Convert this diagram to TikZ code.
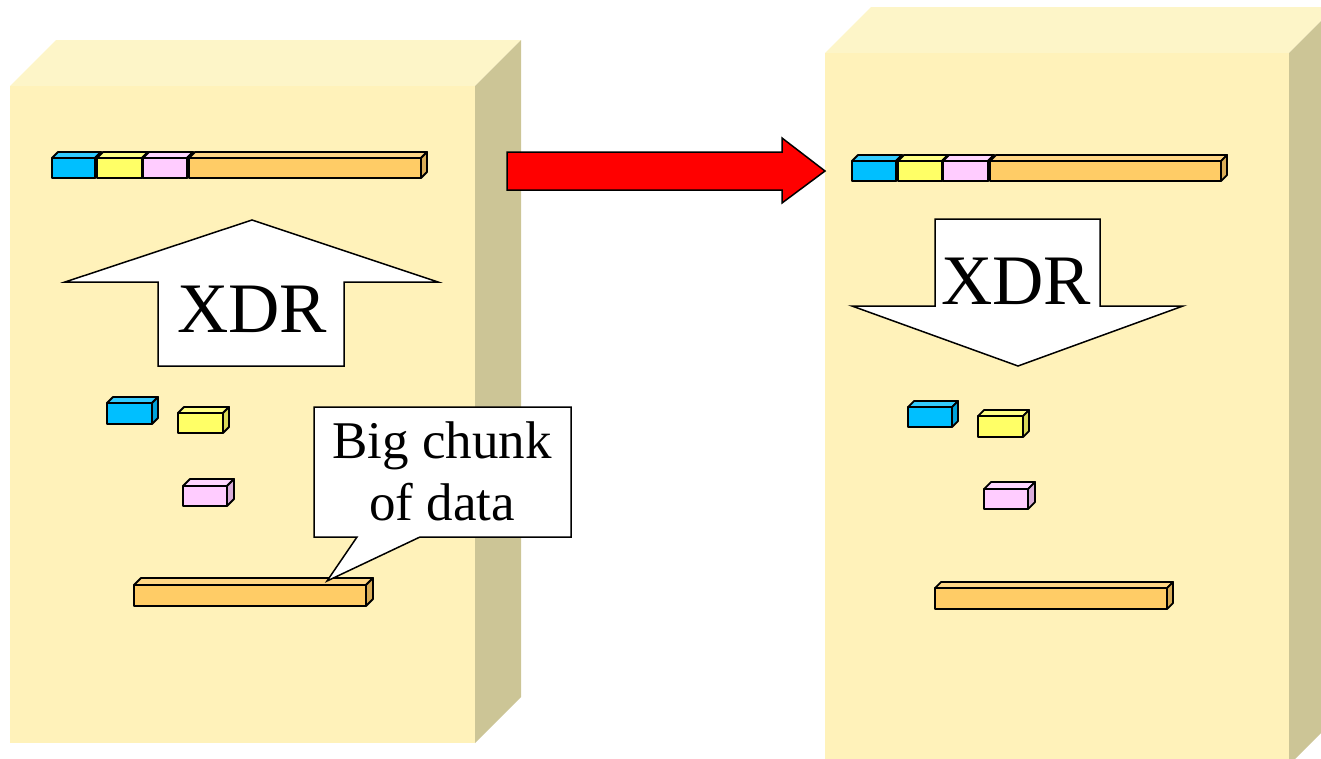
\documentclass[tikz,border=0pt]{standalone}
\usepackage{fontspec}
\setmainfont{Liberation Serif}

% cabinet faces
\definecolor{caseFront}{HTML}{FFF2BA}
\definecolor{caseTop}{HTML}{FDF5C8}
\definecolor{caseSide}{HTML}{CCC596}
% data block colours
\definecolor{blk1}{HTML}{00BFFF}
\definecolor{blk2}{HTML}{FFFF66}
\definecolor{blk3}{HTML}{FFCCFF}
\definecolor{blk4}{HTML}{FFCC66}

\tikzset{
  outline/.style={draw=black, line width=1.5pt, line join=miter},
  slabline/.style={draw=black, line width=1.8pt, line join=round},
  xdrtext/.style={font=\fontsize{71}{80}\selectfont, inner sep=0pt, anchor=base},
  calltext/.style={font=\fontsize{53}{62}\selectfont, align=center, inner sep=0pt},
}

% a cabinet: front face corners (x1,y1)-(x2,y2) and depth
\newcommand\casebox[5]{%
  \fill[caseTop] (#1,#2) -- (#1+#5,#2-#5) -- (#3+#5,#2-#5) -- (#3,#2) -- cycle;
  \fill[caseSide] (#3,#2) -- (#3+#5,#2-#5) -- (#3+#5,#4-#5) -- (#3,#4) -- cycle;
  \fill[caseFront] (#1,#2) rectangle (#3,#4);
}

% a small 3-D data block: front face (x1,y1)-(x2,y2), depth, colour
\newcommand\slab[6]{%
  \filldraw[slabline, fill=#6!80!white] (#1,#2) -- (#1+#5,#2-#5) -- (#3+#5,#2-#5) -- (#3,#2) -- cycle;
  \filldraw[slabline, fill=#6!85!black] (#3,#2) -- (#3+#5,#2-#5) -- (#3+#5,#4-#5) -- (#3,#4) -- cycle;
  \filldraw[slabline, fill=#6] (#1,#2) rectangle (#3,#4);
}

\begin{document}
\begin{tikzpicture}[x=1pt, y=-1pt]
\useasboundingbox (0,0) rectangle (1321,758);
\clip (0,0) rectangle (1321,758);

% the two machines
\casebox{10}{86}{475}{743}{46}
\casebox{825}{53}{1289}{765}{46}

% ---- sender ----
\slab{52}{158}{95}{178}{6}{blk1}
\slab{97}{158}{142}{178}{6}{blk2}
\slab{143}{158}{187}{178}{6}{blk3}
\slab{189}{158}{421}{178}{6}{blk4}

\filldraw[outline, fill=white] (158,366) -- (158,282) -- (65,282) -- (252,220)
  -- (438,282) -- (344,282) -- (344,366) -- cycle;
\node[xdrtext] (encode) at (252,332) {XDR};

\slab{107}{403}{152}{424}{6}{blk1}
\slab{178}{413}{223}{433}{6}{blk2}
\slab{183}{486}{227}{506}{7}{blk3}
\slab{134}{585}{366}{606}{7}{blk4}

\filldraw[outline, fill=white] (314,407) -- (571,407) -- (571,537) -- (420,537)
  -- (327,581) -- (357,537) -- (314,537) -- cycle;
\node[calltext] (chunk) at (442,471) {Big chunk\\of data};

% ---- transfer ----
\filldraw[outline, fill=red] (507,152) -- (782,152) -- (782,138) -- (825,171)
  -- (782,203) -- (782,190) -- (507,190) -- cycle;

% ---- receiver ----
\slab{852}{161}{896}{181}{6}{blk1}
\slab{898}{161}{942}{181}{6}{blk2}
\slab{943}{161}{988}{181}{6}{blk3}
\slab{990}{161}{1221}{181}{6}{blk4}

\filldraw[outline, fill=white] (935,219) -- (1100,219) -- (1100,306) -- (1183,306)
  -- (1018,366) -- (852,306) -- (935,306) -- cycle;
\node[xdrtext] (decode) at (1016,304) {XDR};

\slab{908}{407}{952}{427}{6}{blk1}
\slab{978}{416}{1023}{437}{6}{blk2}
\slab{984}{489}{1028}{509}{7}{blk3}
\slab{935}{588}{1167}{609}{6}{blk4}
\end{tikzpicture}
\end{document}
